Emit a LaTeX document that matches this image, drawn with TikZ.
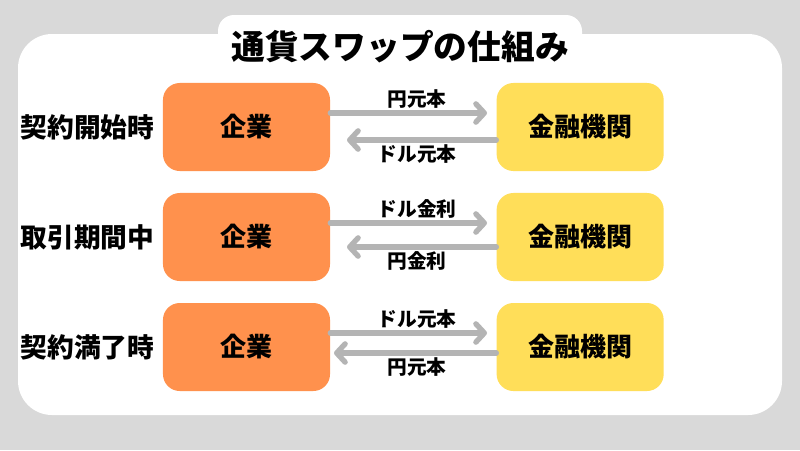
\documentclass[tikz,border=0pt]{standalone}
\usepackage{fontspec}
\setmainfont{Noto Sans CJK JP}
\usepackage{xcolor}
\usetikzlibrary{arrows, arrows.meta}
\usetikzlibrary{positioning}
\usetikzlibrary{calc}
\definecolor{bggray}{HTML}{D9D9D9}
\definecolor{corpfill}{HTML}{FF914D}
\definecolor{bankfill}{HTML}{FFDE59}
\definecolor{flowgray}{HTML}{B4B4B4}

\begin{document}
\begin{tikzpicture}[x=0.025cm, y=-0.025cm,
		party/.style={rounded corners=0.42cm, minimum width=4.175cm, minimum height=2.2cm, inner sep=0pt, font=\fontsize{18.5}{20}\selectfont\bfseries},
		corp/.style={party, fill=corpfill},
		bank/.style={party, fill=bankfill},
		when/.style={inner sep=0pt, font=\fontsize{19}{21}\selectfont\bfseries},
		amount/.style={inner sep=0pt, font=\fontsize{14}{16}\selectfont\bfseries},
		flow/.style={draw=flowgray, line width=3.8pt, line cap=round, -{Straight Barb[length=6pt, width=13pt, line cap=round, line join=round]}}]
			\fill[bggray] (0,0) rectangle (800,450);
			\useasboundingbox (0,0) rectangle (800,450);
			\fill[white, rounded corners=0.85cm] (18,34) rectangle (782,415);
			\fill[white, rounded corners=0.4cm] (218,15) rectangle (582,60);
			\node[inner sep=0pt, font=\fontsize{24}{26}\selectfont\bfseries] (title) at (400,47) {通貨スワップの仕組み};
			\foreach \y/\yb/\xb/\when/\ltop/\lbot[count = \i] in {127/140/347/契約開始時/円元本/ドル元本, 237/247/347/取引期間中/ドル金利/円金利, 347/353/334/契約満了時/ドル元本/円元本}
			{
				\node[corp] (corp\i) at (246.5,\y) {企業};
				\node[bank, right=4.15cm of corp\i] (bank\i) {金融機関};
				\node[when, left=0.2cm of corp\i] (when\i) {\when};
				\coordinate (out\i) at (487,\y-14);
				\coordinate (back\i) at (\xb,\yb);
				\draw[flow] (corp\i.east |- out\i) -- (out\i);
				\draw[flow] (bank\i.west |- back\i) -- (back\i);
				\node[amount] (ltop\i) at (417,\y-28) {\ltop};
				\node[amount] (lbot\i) at (417,\yb+14) {\lbot};
			}
		\end{tikzpicture}
\end{document}
